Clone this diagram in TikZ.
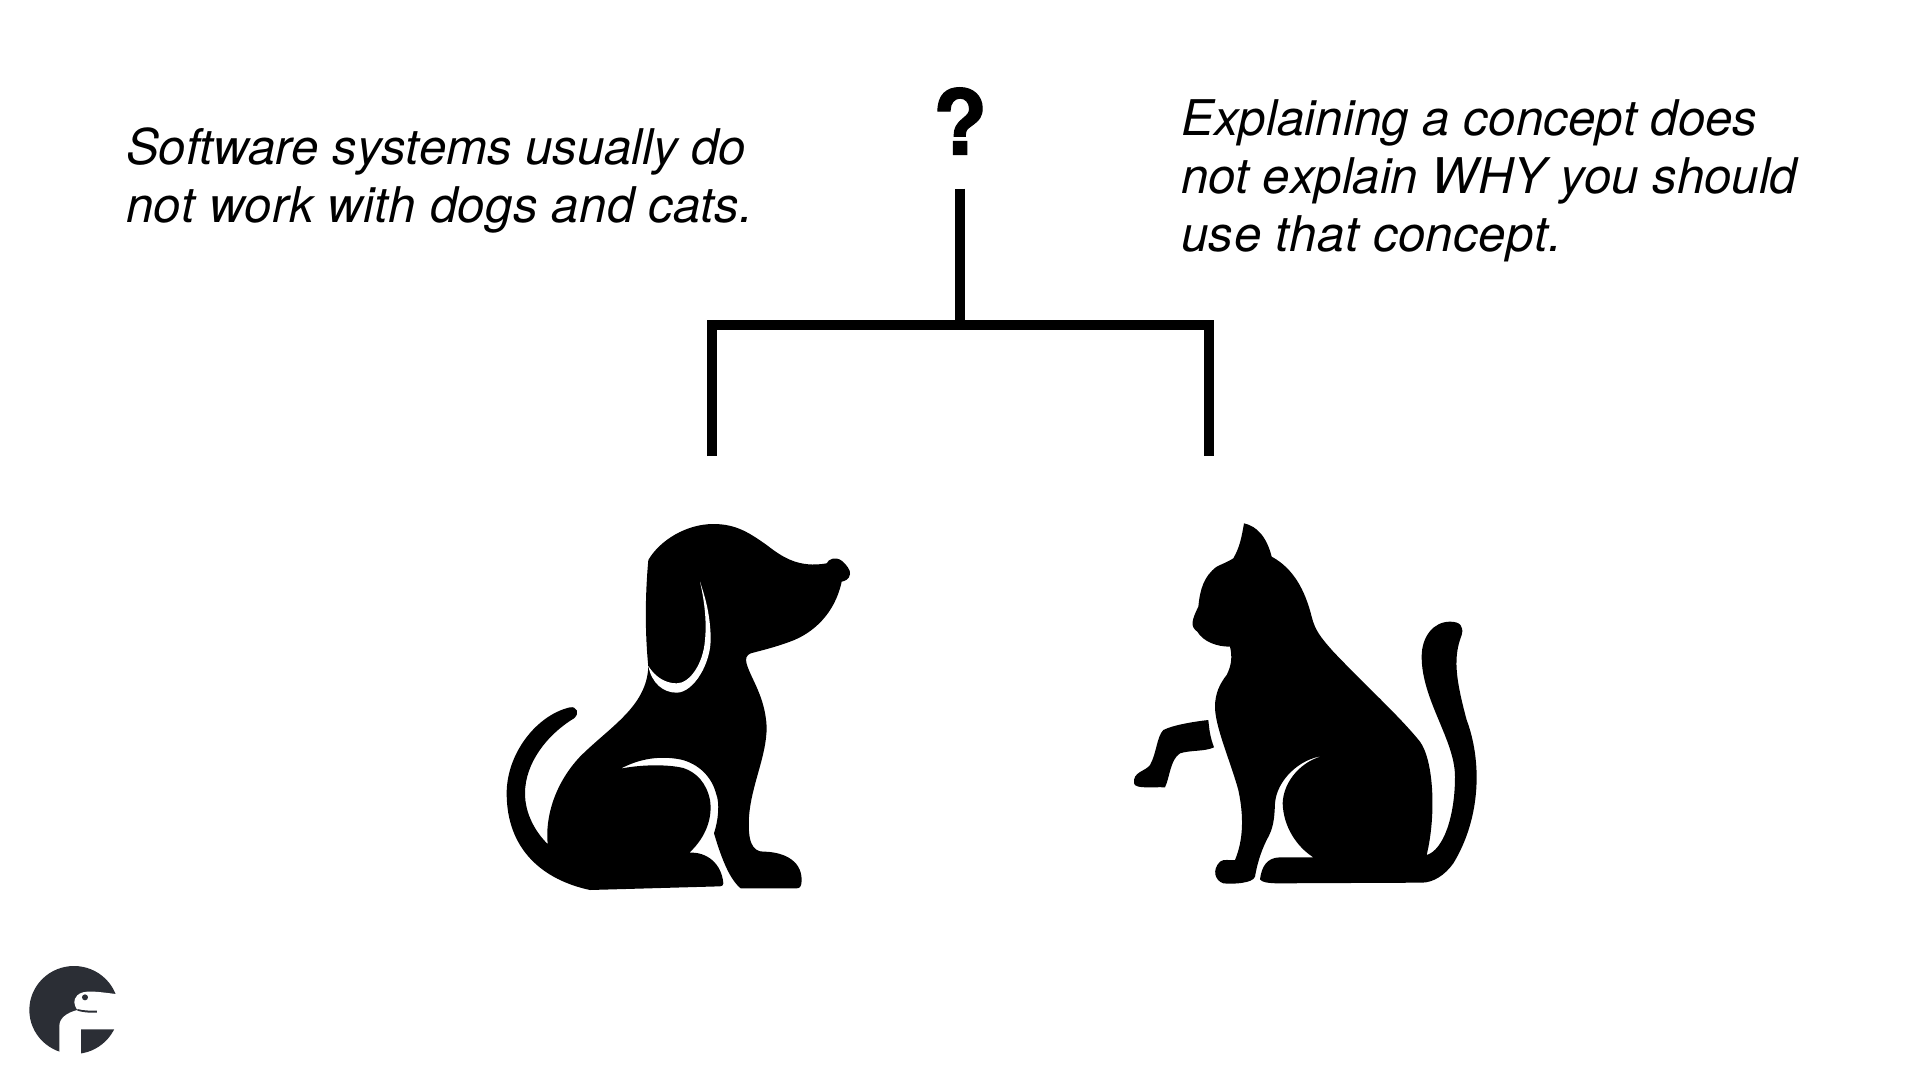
\documentclass[tikz,border=0pt]{standalone}
\usepackage{fontspec}
\setmainfont[Kerning=Off]{TeX Gyre Heros}
\newfontfamily\markfont[FakeBold=1.2]{TeX Gyre Heros Bold}
\newcommand{\spaced}[2]{{\addfontfeature{LetterSpace=#1}#2}}
\definecolor{logodark}{HTML}{2B2E35}
\tikzset{
  bracket/.style={draw=black,line width=10pt,line cap=butt,line join=miter},
  caption/.style={inner sep=0pt,align=left,anchor=north west,font=\fontsize{49.2}{58.4}\selectfont\itshape},
  sil/.style={fill=black,draw=none},
  gap/.style={fill=white,draw=none},
  zoomdog/.style={shift={(480,500)},x=0.33333pt,y=-0.33333pt},
  zoomcat/.style={shift={(1120,500)},x=0.33333pt,y=-0.33333pt},
  zoomlogo/.style={shift={(0,950)},x=0.33333pt,y=-0.33333pt}
}
\begin{document}
\begin{tikzpicture}[x=1pt,y=-1pt]
\useasboundingbox[fill=white] (0,0) rectangle (1920,1080);

\node[caption] (left) at (126,127.5) {\spaced{-0.35}{Software systems usually do}\\\spaced{0.6}{not work with dogs and cats.}};
\node[caption] (right) at (1181,99) {\spaced{0.2}{Explaining a concept does}\\\spaced{-0.2}{not explain WHY you should}\\\spaced{0.9}{use that concept.}};
\node[inner sep=0pt,font=\fontsize{90}{90}\selectfont\markfont] (q) at (960,121) {?};

\coordinate (stem) at (960,188.5);
\coordinate (join) at (960,325);
\coordinate (cornerL) at (712,325);
\coordinate (cornerR) at (1209,325);
\coordinate (endL) at (712,456);
\coordinate (endR) at (1209,456);
\draw[bracket] (stem) -- (join);
\draw[bracket] (endL) -- (cornerL) -- (cornerR) -- (endR);

% dog
\begin{scope}[zoomdog]
\path[sil] (505,180) .. controls (540,120) and (620,72) .. (700,72)
 .. controls (770,72) and (810,100) .. (860,135)
 .. controls (905,170) and (955,205) .. (1040,190)
 .. controls (1045,178) and (1065,168) .. (1085,182)
 .. controls (1100,195) and (1112,210) .. (1110,222)
 .. controls (1108,238) and (1095,243) .. (1085,245)
 .. controls (1065,340) and (1000,400) .. (930,425)
 .. controls (890,440) and (850,450) .. (812,460)
 .. controls (800,465) and (795,475) .. (800,492)
 .. controls (815,540) and (855,590) .. (860,680)
 .. controls (860,770) and (815,850) .. (807,950)
 .. controls (803,1020) and (815,1055) .. (850,1055)
 .. controls (900,1055) and (965,1075) .. (965,1140)
 .. controls (965,1158) and (960,1165) .. (950,1165)
 -- (782,1165)
 .. controls (745,1135) and (720,1060) .. (702,1000)
 .. controls (715,960) and (720,910) .. (708,880)
 .. controls (695,830) and (655,790) .. (600,778)
 .. controls (540,767) and (480,775) .. (422,806)
 .. controls (480,794) and (560,792) .. (610,804)
 .. controls (650,817) and (680,850) .. (690,900)
 .. controls (698,950) and (680,1010) .. (628,1058)
 .. controls (680,1055) and (725,1090) .. (730,1150)
 .. controls (730,1156) and (726,1159) .. (720,1159)
 -- (330,1170)
 .. controls (190,1140) and (80,1050) .. (80,880)
 .. controls (80,760) and (170,645) .. (270,622)
 .. controls (290,618) and (300,640) .. (282,655)
 .. controls (200,705) and (135,790) .. (135,880)
 .. controls (135,945) and (170,1000) .. (203,1032)
 .. controls (195,950) and (225,850) .. (300,770)
 .. controls (390,680) and (500,620) .. (505,500)
 .. controls (495,400) and (495,290) .. (505,180) -- cycle;
\path[gap] (505,498)
 .. controls (515,550) and (550,578) .. (590,578)
 .. controls (640,578) and (695,490) .. (692,410)
 .. controls (690,340) and (675,290) .. (660,245)
 .. controls (675,310) and (680,370) .. (675,420)
 .. controls (670,490) and (630,550) .. (590,550)
 .. controls (555,550) and (525,530) .. (505,498) -- cycle;
\end{scope}

% cat
\begin{scope}[zoomcat]
\path[sil] (372,70) .. controls (410,78) and (440,110) .. (455,170)
 .. controls (520,205) and (555,270) .. (575,350)
 .. controls (585,390) and (600,410) .. (640,455)
 .. controls (730,550) and (840,650) .. (900,725)
 .. controls (940,780) and (950,940) .. (920,1065)
 .. controls (970,1050) and (1005,950) .. (1005,830)
 .. controls (1005,720) and (905,600) .. (905,470)
 .. controls (905,410) and (940,365) .. (990,365)
 .. controls (1020,365) and (1032,378) .. (1025,405)
 .. controls (1000,470) and (1005,530) .. (1040,660)
 .. controls (1085,780) and (1085,950) .. (1000,1090)
 .. controls (975,1125) and (940,1148) .. (905,1148)
 -- (470,1150)
 .. controls (440,1149) and (425,1146) .. (420,1138)
 .. controls (425,1100) and (440,1073) .. (480,1072)
 -- (580,1072)
 .. controls (530,1040) and (490,980) .. (488,910)
 .. controls (490,840) and (550,780) .. (610,768)
 .. controls (540,775) and (470,840) .. (465,910)
 .. controls (463,960) and (460,985) .. (440,1020)
 .. controls (420,1060) and (410,1100) .. (405,1130)
 .. controls (398,1150) and (340,1153) .. (310,1150)
 .. controls (285,1142) and (275,1110) .. (300,1085)
 .. controls (310,1076) and (330,1082) .. (345,1080)
 .. controls (370,1020) and (372,950) .. (355,870)
 .. controls (330,780) and (285,680) .. (285,620)
 .. controls (285,580) and (300,550) .. (320,525)
 .. controls (335,495) and (337,470) .. (330,440)
 .. controls (290,440) and (250,425) .. (232,395)
 .. controls (210,380) and (215,360) .. (235,320)
 .. controls (240,270) and (250,230) .. (290,200)
 .. controls (310,190) and (325,185) .. (340,175)
 .. controls (360,140) and (365,110) .. (372,70) -- cycle;
\path[sil] (265,660) .. controls (220,665) and (160,675) .. (130,690)
 .. controls (110,710) and (110,760) .. (90,795)
 .. controls (75,815) and (38,815) .. (42,850)
 .. controls (45,868) and (100,860) .. (135,862)
 .. controls (150,830) and (150,780) .. (180,760)
 .. controls (210,750) and (255,755) .. (282,742)
 .. controls (270,710) and (268,690) .. (265,660) -- cycle;
\end{scope}

% logo
\begin{scope}[zoomlogo]
\fill[logodark] (222,180) ellipse[x radius=134,y radius=132];
\path[gap] (178,325) -- (178,228)
 .. controls (178,205) and (200,188) .. (232,180)
 .. controls (222,165) and (218,150) .. (232,136)
 .. controls (250,118) and (290,125) .. (347,132)
 -- (372,132) -- (372,238) -- (243,238) -- (243,325) -- cycle;
\fill[logodark] (255,142) circle[radius=9];
\path[fill=logodark] (232,177) .. controls (250,182) and (270,182) .. (291,182) -- (291,188) .. controls (265,189) and (245,186) .. (232,182) -- cycle;
\end{scope}
\end{tikzpicture}
\end{document}
